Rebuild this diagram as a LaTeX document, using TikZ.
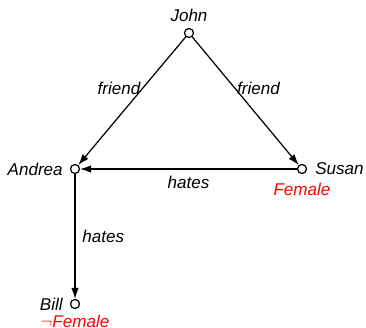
\documentclass[tikz,border=0pt]{standalone}
\usepackage{fontspec}
\setmainfont{Liberation Sans}
\usetikzlibrary{arrows.meta}

\begin{document}
\begin{tikzpicture}[
    font=\fontsize{9.7}{11.6}\selectfont\itshape,
    person/.style={
        draw,
        circle,
        line width=0.7pt,
        fill=white,
        inner sep=0pt,
        minimum size=0.18cm
    },
    attr/.style={text=red},
    arrow/.style={-{Latex[length=0.22cm,width=0.15cm]}, line width=0.7pt},
    rel/.style={inner sep=1pt}
]
\useasboundingbox (0,0) rectangle (7.32,6.56);

% ============================================================
% PERSONS
% ============================================================
\node[person, label={[label distance=0.0cm]above:John}] (john) at (3.78,5.90) {};
\node[person, label={[label distance=0.02cm]left:Andrea}] (andrea) at (1.50,3.18) {};
\node[person, label={[label distance=0.04cm]right:Susan},
      label={[attr, label distance=0.06cm]below:Female}] (susan) at (6.04,3.18) {};
\node[person, label={[label distance=0.02cm]left:Bill},
      label={[attr, label distance=0.0cm]below:$\neg$Female}] (bill) at (1.50,0.48) {};

% ============================================================
% RELATIONS
% ============================================================
\draw[arrow] (john) -- node[rel, pos=0.4, left] {friend} (andrea);
\draw[arrow] (john) -- node[rel, pos=0.4, right] {friend} (susan);
\draw[arrow] (susan) -- node[rel, below=0.1cm] {hates} (andrea);
\draw[arrow] (andrea) -- node[rel, right=0.1cm] {hates} (bill);

\end{tikzpicture}
\end{document}
